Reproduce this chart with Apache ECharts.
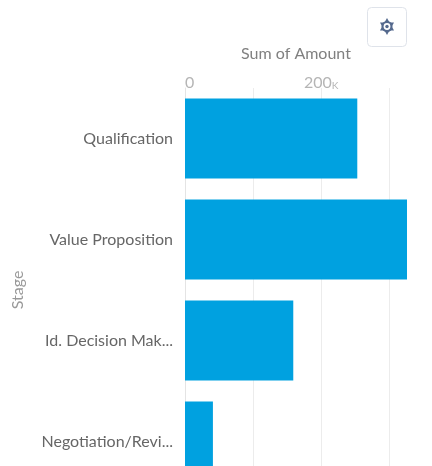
<!DOCTYPE html>
<html><head><meta charset="utf-8">
<style>html,body{margin:0;padding:0;background:#fff}#c{width:432px;height:466px}</style>
<script src="https://cdn.jsdelivr.net/npm/echarts@6/dist/echarts.min.js"></script></head>
<body><div id="c"></div>
<script>
const categories = ['Qualification','Value Proposition','Id. Decision Mak...','Negotiation/Revi...'];
const amounts = [253000,326000,159000,41000];
const xMax = 326000;
const xTickStep = 100000;
const xLabels = {0:'0',200000:'200'};
const font = 'Lato';
const chart = echarts.init(document.getElementById('c'));
chart.setOption({
  animation:false,
  backgroundColor:'#fff',
  textStyle:{fontFamily:font},
  grid:{left:185,top:88,width:222,height:404,containLabel:false,outerBoundsMode:'none'},
  xAxis:{type:'value',position:'top',min:0,max:xMax,interval:xTickStep,
    name:'Sum of Amount',nameLocation:'middle',nameGap:26,
    nameTextStyle:{color:'#808080',fontSize:16,fontFamily:font},
    axisLine:{show:false},axisTick:{show:false},
    splitLine:{showMaxLine:false,lineStyle:{color:'#ececec',width:1}},
    axisLabel:{color:'#b5b5b5',fontSize:16,margin:-3,showMaxLabel:false,hideOverlap:false,alignMinLabel:'left',
      formatter:v=>v===0?'0':(xLabels[v]?'{n|'+xLabels[v]+'}{k|K}':''),
      rich:{n:{color:'#b5b5b5',fontSize:16,fontFamily:font},k:{color:'#b5b5b5',fontSize:10,fontFamily:font,verticalAlign:'bottom'}}}},
  yAxis:{type:'category',inverse:true,data:categories,
    name:'Stage',nameLocation:'middle',nameGap:159,
    nameTextStyle:{color:'#999',fontSize:16,fontFamily:font},
    axisLine:{show:true,lineStyle:{color:'#e4e4e4'}},axisTick:{show:false},
    axisLabel:{color:'#666',fontSize:16,margin:12,fontFamily:font,padding:[0,0,2,0]}},
  series:[{type:'bar',data:amounts,barWidth:80,itemStyle:{color:'#00a1e0'},silent:true}],
  graphic:[
    {type:'rect',shape:{x:367.5,y:7.5,width:39,height:39,r:4},style:{fill:'#fff',stroke:'#dfe3ea',lineWidth:1}},
    {type:'polygon',shape:{points:[[387,18],[394,30.5],[380,30.5]]},style:{fill:'#54698d'}},
    {type:'polygon',shape:{points:[[387,35],[394,22.5],[380,22.5]]},style:{fill:'#54698d'}},
    {type:'circle',shape:{cx:387,cy:26.5,r:5.5},style:{fill:'#54698d'}},
    {type:'circle',shape:{cx:387,cy:26.5,r:3.4},style:{fill:'#fff'}},
    {type:'circle',shape:{cx:387,cy:26.5,r:1.7},style:{fill:'#54698d'}}
  ]
});
</script></body></html>
